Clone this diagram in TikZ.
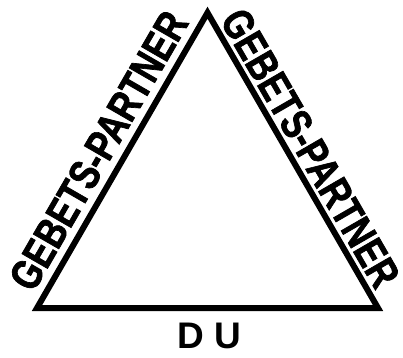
\documentclass[tikz,border=0pt]{standalone}
\usepackage{fontspec}
\setmainfont{Liberation Sans}
\newfontfamily\sidefont{Liberation Sans}[FakeStretch=0.79,FakeBold=1.6]
\usetikzlibrary{positioning,calc}

\begin{document}
\begin{tikzpicture}[x=1pt,y=-1pt]
\useasboundingbox (0,0) rectangle (403,357);
\coordinate (left) at (37,308);
\coordinate (right) at (378,308);
\coordinate (apex) at (207.5,12.7);
\draw[line width=6pt,line join=miter] (left) -- (right) -- (apex) -- cycle;
\path (left) -- (apex) node[pos=0.49,sloped,above=10pt,inner sep=0pt,font=\sidefont\bfseries\fontsize{43}{43}\selectfont] (partnerL) {GEBETS-PARTNER};
\path (apex) -- (right) node[pos=0.495,sloped,above=6pt,inner sep=0pt,font=\sidefont\bfseries\fontsize{43}{43}\selectfont] (partnerR) {GEBETS-PARTNER};
\node[anchor=base,inner sep=0pt,font=\bfseries\fontsize{37}{37}\selectfont] (du) at (209,348) {D U};
\end{tikzpicture}
\end{document}
